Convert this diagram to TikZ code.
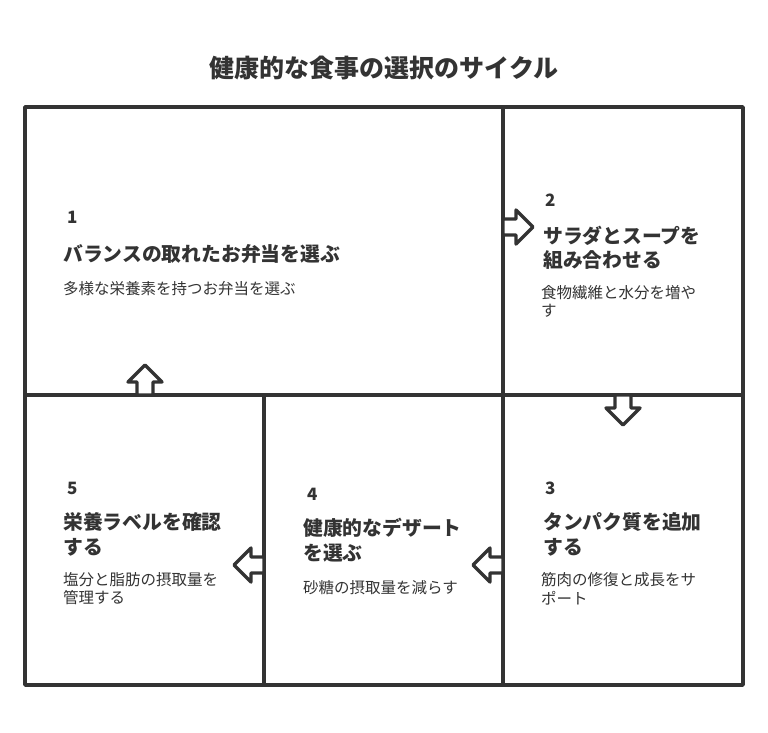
\documentclass[tikz,border=0pt]{standalone}
\usepackage{fontspec}
\setmainfont{Noto Sans CJK JP}
\definecolor{ink}{HTML}{333333}
\tikzset{
  frame/.style={draw=ink, line width=3.4pt, line cap=round, line join=round},
  num/.style={anchor=west, inner sep=0pt, font=\fontsize{17}{19}\selectfont\bfseries, text=ink},
  ttl/.style={anchor=west, inner sep=0pt, font=\fontsize{19.8}{22}\selectfont\bfseries, text=ink},
  dsc/.style={anchor=west, inner sep=0pt, font=\fontsize{15.5}{18}\selectfont, text=ink},
  flow/.pic={\draw[frame, fill=white] (0,-8) -- (13,-8) -- (13,-17) -- (30,0) -- (13,17) -- (13,8) -- (0,8) -- cycle;}
}
\begin{document}
\begin{tikzpicture}[x=1pt,y=-1pt]
    \useasboundingbox (0,0) rectangle (768,732);

    \node (title) at (384,68) {\fontsize{25}{29}\selectfont\bfseries\color{ink}健康的な食事の選択のサイクル};

    % grid
    \draw[frame] (25,107) rectangle (743,685);
    \draw[frame] (503,107) -- (503,685);
    \draw[frame] (25,395) -- (743,395);
    \draw[frame] (264,395) -- (264,685);

    % arrows
    \pic at (503,227) {flow};
    \pic[rotate=-90] at (623,395) {flow};
    \pic[rotate=180] at (503,565) {flow};
    \pic[rotate=180] at (264,565) {flow};
    \pic[rotate=90] at (145,395) {flow};

    % box 1
    \node[num] (n1) at (67,217) {1};
    \node[ttl] (t1) at (63,254) {バランスの取れたお弁当を選ぶ};
    \node[dsc] (d1) at (63,289) {多様な栄養素を持つお弁当を選ぶ};

    % box 2
    \node[num] (n2) at (545,200) {2};
    \node[ttl] (t2a) at (543,236) {サラダとスープを};
    \node[ttl] (t2b) at (543,260) {組み合わせる};
    \node[dsc] (d2a) at (541,293) {食物繊維と水分を増や};
    \node[dsc] (d2b) at (541,311) {す};

    % box 3
    \node[num] (n3) at (545,488) {3};
    \node[ttl] (t3a) at (543,522) {タンパク質を追加};
    \node[ttl] (t3b) at (543,547) {する};
    \node[dsc] (d3a) at (541,580) {筋肉の修復と成長をサ};
    \node[dsc] (d3b) at (541,598) {ポート};

    % box 4
    \node[num] (n4) at (307,494) {4};
    \node[ttl] (t4a) at (303,528) {健康的なデザート};
    \node[ttl] (t4b) at (303,553) {を選ぶ};
    \node[dsc] (d4) at (303,588) {砂糖の摂取量を減らす};

    % box 5
    \node[num] (n5) at (67,488) {5};
    \node[ttl] (t5a) at (63,522) {栄養ラベルを確認};
    \node[ttl] (t5b) at (63,547) {する};
    \node[dsc] (d5a) at (63,580) {塩分と脂肪の摂取量を};
    \node[dsc] (d5b) at (63,598) {管理する};
\end{tikzpicture}
\end{document}
